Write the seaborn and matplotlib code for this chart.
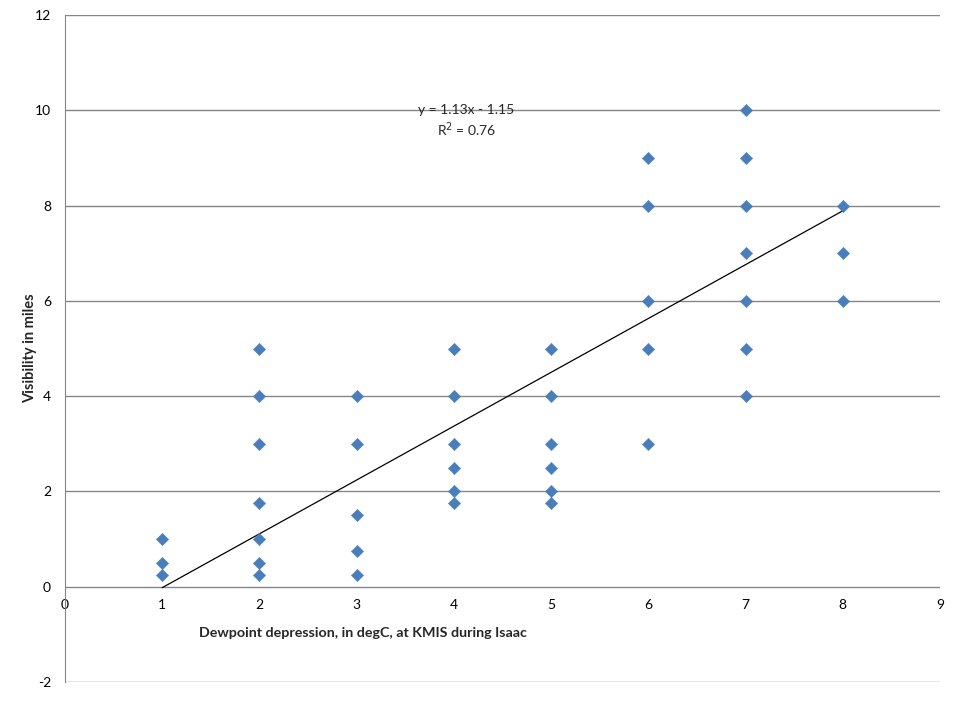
import seaborn as sns
import pandas as pd
import matplotlib.pyplot as plt

# dewpoint depression (degC) and visibility (miles)
dewpoint = [1, 1, 1,
            2, 2, 2, 2, 2, 2, 2,
            3, 3, 3, 3, 3,
            4, 4, 4, 4, 4, 4,
            5, 5, 5, 5, 5, 5,
            6, 6, 6, 6, 6,
            7, 7, 7, 7, 7, 7, 7,
            8, 8, 8]
visibility = [0.25, 0.5, 1.0,
              0.25, 0.5, 1.0, 1.75, 3, 4, 5,
              0.25, 0.75, 1.5, 3, 4,
              1.75, 2, 2.5, 3, 4, 5,
              1.75, 2, 2.5, 3, 4, 5,
              3, 5, 6, 8, 9,
              4, 5, 6, 7, 8, 9, 10,
              6, 7, 8]

# linear trendline as reported on the chart
slope = 1.13
intercept = -1.15
r_squared = 0.76

x_ticks = list(range(0, 10))
y_ticks = list(range(-2, 13, 2))

df = pd.DataFrame({'dewpoint': dewpoint, 'visibility': visibility})

sns.set_style('white')
plt.rcParams['font.family'] = ['Lato', 'DejaVu Sans']
plt.rcParams['axes.unicode_minus'] = False

fig = plt.figure(figsize=(9.6, 7.2), dpi=100)
ax = fig.add_axes([65/960, 1 - 682/720, 875/960, 667/720])

# gridlines
for yv in y_ticks:
    ax.axhline(yv, color='#868686', lw=1, zorder=0)

sns.scatterplot(x='dewpoint', y='visibility', data=df, marker='D', s=40,
                color='#4A7EBB', edgecolor='#4A7EBB', linewidth=0.3, ax=ax, zorder=3)

## trendline over data range
xs = [min(dewpoint), max(dewpoint)]
ax.plot(xs, [slope * v + intercept for v in xs], color='black', lw=0.9, zorder=2)

ax.text(4.13, 10.0, 'y = %.2fx - %.2f' % (slope, abs(intercept)), ha='center', va='center', fontsize=10)
ax.text(4.13, 9.6, 'R$^2$ = %.2f' % r_squared, ha='center', va='center', fontsize=10)

ax.set_xlim(0, 9)
ax.set_ylim(-2, 12)
ax.set_xticks(x_ticks)
ax.set_yticks(y_ticks)
ax.tick_params(length=0, labelsize=10, colors='black')
ax.tick_params(axis='x', pad=9)
ax.tick_params(axis='y', pad=10)

for side in ['top', 'right', 'bottom']:
    ax.spines[side].set_visible(False)
ax.spines['left'].set_color('#868686')
ax.spines['bottom'].set_position(('data', 0))

ax.set_xlabel('Dewpoint depression, in degC, at KMIS during Isaac', fontsize=10.3, fontweight='bold')
ax.xaxis.set_label_coords(0.341, 0.073)
ax.xaxis.label.set_va('center')
ax.set_ylabel('Visibility in miles', fontsize=10.5, fontweight='bold')
ax.yaxis.set_label_coords(-0.04, 0.5)
ax.yaxis.label.set_va('center')

plt.savefig('out.png', dpi=100)
